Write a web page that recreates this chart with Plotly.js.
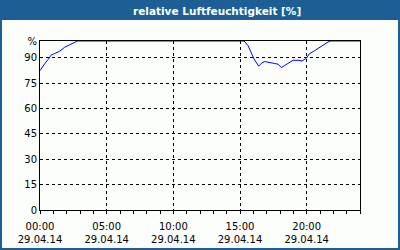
<!DOCTYPE html>
<html><head><meta charset="utf-8">
<script src="https://cdn.plot.ly/plotly-3.0.1.min.js"></script>
<style>html,body{margin:0;padding:0;background:#fcfefc}#c{width:400px;height:250px}</style>
</head><body><div id="c"></div>
<script>
const titleText = "relative Luftfeuchtigkeit [%]";
const hours = [0, 0.15, 0.35, 0.6, 0.85, 1.1, 1.48, 1.85, 2.23, 2.55, 2.8, 5, 10, 15, 15.3,
  15.6, 15.8, 16.05, 16.4, 16.65, 16.85, 17.2, 17.6, 17.85, 18.1, 18.35, 18.7, 18.98,
  19.35, 19.65, 19.98, 20.2, 20.6, 21.1, 21.4, 21.6, 21.8, 24];
const humidity = [82.5, 84.5, 86.5, 89, 91.8, 92.6, 94, 96.3, 97.8, 99.2, 100, 100, 100, 100, 100,
  97.3, 93.7, 89.4, 85.1, 87.1, 87.8, 87.1, 86.7, 86.3, 84.3, 85.5, 87.5, 88.6,
  88.6, 88.2, 89.8, 92.4, 94.3, 96.9, 98.6, 99.4, 100, 100];
const xTickVals = [0, 5, 10, 15, 20];
const xTickText = ["00:00<br>29.04.14", "05:00<br>29.04.14", "10:00<br>29.04.14", "15:00<br>29.04.14", "20:00<br>29.04.14"];
const yTickVals = [0, 15, 30, 45, 60, 75, 90, 100];
const yTickText = ["0", "15", "30", "45", "60", "75", "90", "%"];

const W = 400, H = 250, L = 40, R = 40, T = 41, B = 40;
const pw = W - L - R, ph = H - T - B;
const px = x => (x - L) / pw;
const py = y => (H - B - y) / ph;
const blue = "#1d5f94";

Plotly.newPlot("c", [{
  x: hours, y: humidity, type: "scatter", mode: "lines",
  line: {color: "#0000ff", width: 1}, hoverinfo: "skip"
}], {
  width: W, height: H,
  margin: {l: L, r: R, t: T, b: B, pad: 0},
  paper_bgcolor: "#fcfefc", plot_bgcolor: "#fcfefc",
  showlegend: false,
  font: {family: "DejaVu Sans", size: 10, color: "#000"},
  xaxis: {
    range: [0, 24], tickmode: "array", tickvals: xTickVals, ticktext: xTickText,
    ticks: "outside", ticklen: 3, tickcolor: "#000", tickwidth: 1, ticklabelstandoff: 4,
    showgrid: true, gridcolor: "#000", griddash: "3px,3px", gridwidth: 1,
    zeroline: false, showline: true, mirror: true, linecolor: "#000", linewidth: 1,
    minor: {tickmode: "linear", tick0: 0, dtick: 1, ticks: "outside", ticklen: 3, tickcolor: "#000", showgrid: false},
    fixedrange: true
  },
  yaxis: {
    range: [0, 100], tickmode: "array", tickvals: yTickVals, ticktext: yTickText,
    ticks: "", showgrid: true, gridcolor: "#000", griddash: "3px,3px", gridwidth: 1,
    zeroline: false, showline: true, mirror: true, linecolor: "#000", linewidth: 1,
    fixedrange: true
  },
  shapes: [
    {type: "rect", xref: "paper", yref: "paper", x0: px(0), x1: px(400), y0: py(20), y1: py(0),
     fillcolor: blue, line: {width: 0}, layer: "above"},
    {type: "rect", xref: "paper", yref: "paper", x0: px(1), x1: px(399), y0: py(249), y1: py(1),
     fillcolor: "rgba(0,0,0,0)", line: {color: blue, width: 2}, layer: "above"}
  ],
  annotations: [
    {text: "<b>" + titleText + "</b>", xref: "paper", yref: "paper", x: px(216.7), y: py(10.5),
     xanchor: "center", yanchor: "middle", showarrow: false,
     font: {family: "DejaVu Sans", size: 10.5, color: "#fff"}}
  ]
}, {displayModeBar: false, staticPlot: true});
</script></body></html>
